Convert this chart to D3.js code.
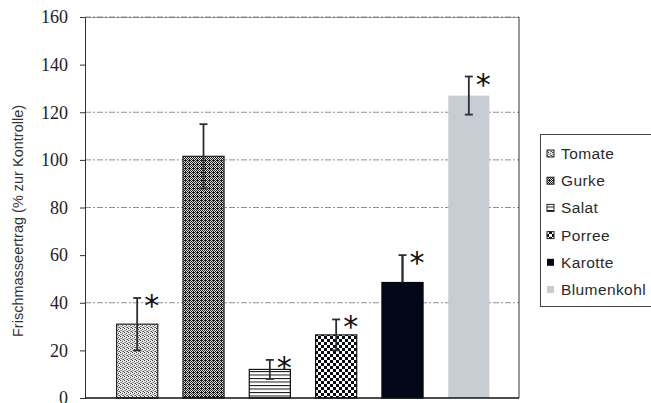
<!DOCTYPE html>
<html><head><meta charset="utf-8">
<script src="https://cdn.jsdelivr.net/npm/d3@7"></script>
<style>body{margin:0;background:#fff}svg{display:block}</style>
</head><body><svg id="c" width="651" height="403"></svg>
<script>
const categories = ["Tomate","Gurke","Salat","Porree","Karotte","Blumenkohl"];
const values = [31, 101.5, 12, 26.5, 48.5, 127];
const errors = [11, 13.5, 4, 6.5, 11.5, 8];
const significant = [true, false, true, true, true, true];
const yTicks = [0,20,40,60,80,100,120,140,160];
const gridTicks = [40,80,100,120,160];
const yTitle = "Frischmasseertrag (% zur Kontrolle)";

(function(){
const svg = d3.select("#c");
const defs = svg.append("defs");
const p1 = defs.append("pattern").attr("id","pTomate").attr("width",4).attr("height",4).attr("patternUnits","userSpaceOnUse");
p1.append("rect").attr("width",4).attr("height",4).attr("fill","#e8e8e8");
[[0,0,"#333"],[2,1,"#555"],[1,2,"#888"],[3,3,"#444"],[2,3,"#999"],[0,2,"#aaa"]].forEach(([px,py,c])=>
  p1.append("rect").attr("x",px).attr("y",py).attr("width",1).attr("height",1).attr("fill",c));
const p2 = defs.append("pattern").attr("id","pGurke").attr("width",4).attr("height",4).attr("patternUnits","userSpaceOnUse");
p2.append("rect").attr("width",4).attr("height",4).attr("fill","#ddd");
[[0,0],[1,1],[2,0],[3,1],[0,2],[2,2],[1,3],[3,3],[1,0]].forEach(([px,py])=>
  p2.append("rect").attr("x",px).attr("y",py).attr("width",1).attr("height",1).attr("fill","#1a1a1a"));
const p3 = defs.append("pattern").attr("id","pSalat").attr("width",4).attr("height",3.5).attr("patternUnits","userSpaceOnUse");
p3.append("rect").attr("width",4).attr("height",3.5).attr("fill","#fff");
p3.append("rect").attr("y",0).attr("width",4).attr("height",1).attr("fill","#111");
const p4 = defs.append("pattern").attr("id","pPorree").attr("width",6).attr("height",6).attr("patternUnits","userSpaceOnUse");
p4.append("rect").attr("width",6).attr("height",6).attr("fill","#fff");
p4.append("rect").attr("x",0).attr("y",0).attr("width",3).attr("height",3).attr("fill","#0a0a14");
p4.append("rect").attr("x",3).attr("y",3).attr("width",3).attr("height",3).attr("fill","#0a0a14");
const fills = ["url(#pTomate)","url(#pGurke)","url(#pSalat)","url(#pPorree)","#020818","#c8cdd3"];
const strokes = ["#222","#222","#111","#111","#020818","none"];

const mLeft = 85, mRight = 519, mTop = 17, mBottom = 398;
const x = d3.scaleBand().domain(categories).range([104, 502]).paddingInner(0.38).paddingOuter(0.19);
const y = d3.scaleLinear().domain([0,160]).range([mBottom, mTop]);

svg.append("g").selectAll("line").data(gridTicks).join("line")
  .attr("x1",mLeft).attr("x2",mRight).attr("y1",d=>y(d)).attr("y2",d=>y(d))
  .attr("stroke","#8a929c").attr("stroke-width",1).attr("stroke-dasharray","6,2,2,2");

svg.append("line").attr("x1",mRight).attr("x2",mRight).attr("y1",mTop).attr("y2",mBottom).attr("stroke","#333").attr("stroke-width",1);
svg.append("line").attr("x1",mLeft).attr("x2",mRight).attr("y1",mTop+0.5).attr("y2",mTop+0.5).attr("stroke","#555").attr("stroke-width",0.6);

svg.append("g").selectAll("rect").data(categories).join("rect")
  .attr("x",d=>x(d)).attr("width",x.bandwidth())
  .attr("y",(d,i)=>y(values[i])).attr("height",(d,i)=>mBottom-y(values[i]))
  .attr("fill",(d,i)=>fills[i]).attr("stroke",(d,i)=>strokes[i]).attr("stroke-width",1.2);

const eg = svg.append("g").attr("stroke","#2a2e36").attr("stroke-width",1.8);
categories.forEach((c,i)=>{
  const cx = x(c)+x.bandwidth()/2;
  const y1 = y(values[i]-errors[i]), y2 = y(values[i]+errors[i]);
  eg.append("line").attr("x1",cx).attr("x2",cx).attr("y1",y1).attr("y2",y2).attr("stroke", i===4? "#020818":"#2a2e36");
  eg.append("line").attr("x1",cx-4).attr("x2",cx+4).attr("y1",y2).attr("y2",y2);
  if(i!==4) eg.append("line").attr("x1",cx-4).attr("x2",cx+4).attr("y1",y1).attr("y2",y1);
  if(i===4){eg.append("line").attr("x1",cx).attr("x2",cx).attr("y1",y(values[i])).attr("y2",y2).attr("stroke","#2a2e36");}
  if(significant[i]){
    svg.append("text").attr("x",cx+7).attr("y",y2+18).attr("font-family","DejaVu Sans, sans-serif")
      .attr("font-size",30).attr("fill","#111").text("*");
  }
});

const yAxis = d3.axisLeft(y).tickValues(yTicks).tickSize(5).tickSizeOuter(0).tickPadding(12);
const ga = svg.append("g").attr("transform",`translate(${mLeft},0)`).call(yAxis);
ga.attr("font-family", null);
ga.select(".domain").attr("stroke","#333");
ga.selectAll(".tick line").attr("stroke","#333");
ga.selectAll(".tick text").style("font-family","'Liberation Serif','DejaVu Serif','Times New Roman',serif")
  .style("font-size","18px").attr("fill","#222");
svg.append("line").attr("x1",mLeft).attr("x2",mRight).attr("y1",mBottom).attr("y2",mBottom).attr("stroke","#111").attr("stroke-width",1.3);

svg.append("text").attr("transform","translate(23,221) rotate(-90)").attr("text-anchor","middle")
  .attr("font-family","Liberation Sans, Arial, sans-serif").attr("font-size",14.5).attr("fill","#333").text(yTitle);

const lg = svg.append("g");
lg.append("rect").attr("x",540.5).attr("y",134.5).attr("width",130).attr("height",172).attr("fill","#fff").attr("stroke","#444").attr("stroke-width",1);
categories.forEach((c,i)=>{
  const ly = 159 + i*27.2;
  lg.append("rect").attr("x",547).attr("y",ly-9).attr("width",7).attr("height",7)
    .attr("fill",fills[i]).attr("stroke", i<4 ? "#222" : "none").attr("stroke-width",1);
  lg.append("text").attr("x",561).attr("y",ly).attr("font-family","Liberation Sans, Arial, sans-serif")
    .attr("font-size",15.5).attr("fill","#2a2a2a").attr("letter-spacing","0.4").text(c);
});
})();
</script></body></html>
